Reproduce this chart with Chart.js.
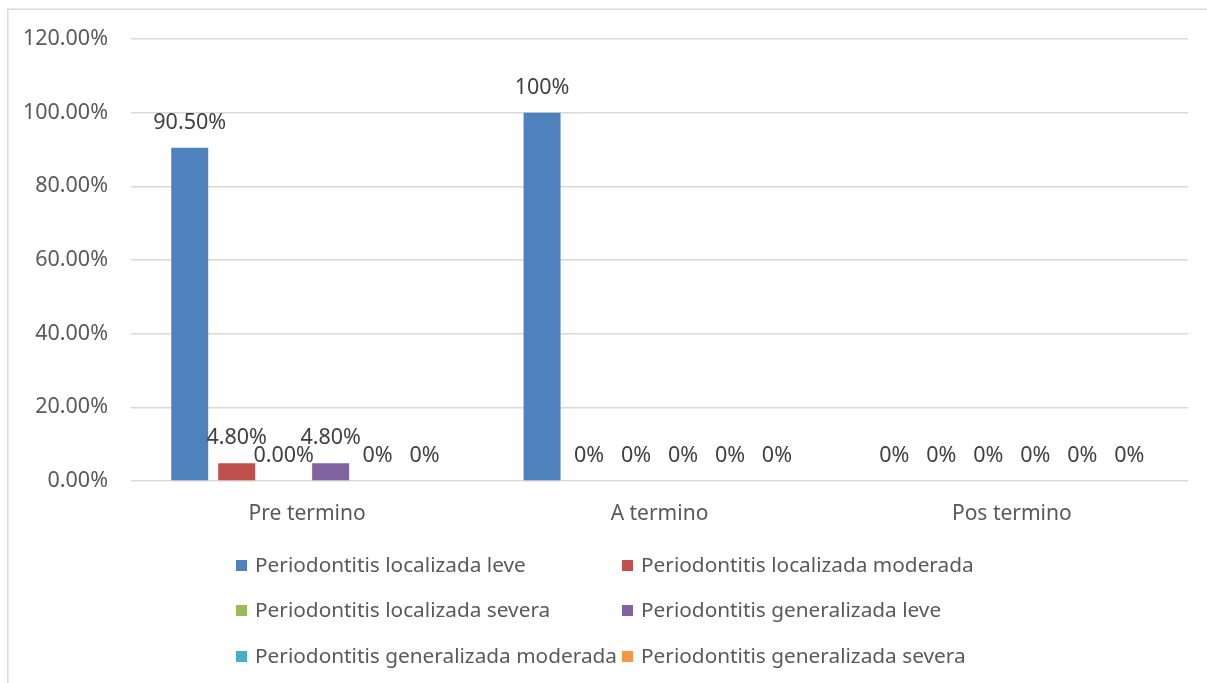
<!DOCTYPE html>
<html>
<head>
<meta charset="utf-8">
<script src="https://cdn.jsdelivr.net/npm/chart.js@4.4.1/dist/chart.umd.min.js"></script>
<style>
  html, body { margin: 0; padding: 0; background: #ffffff; }
  #wrap { position: relative; width: 1207px; height: 683px; }
</style>
</head>
<body>
<div id="wrap"><canvas id="chart" width="1207" height="683"></canvas></div>
<script>
// Categories (gestational age at birth)
const categories = ['Pre termino', 'A termino', 'Pos termino'];

// Series names
const seriesNames = [
  'Periodontitis localizada leve',
  'Periodontitis localizada moderada',
  'Periodontitis localizada severa',
  'Periodontitis generalizada leve',
  'Periodontitis generalizada moderada',
  'Periodontitis generalizada severa'
];

// Values in percent, one array per series (Pre, A, Pos)
const localizadaLeve        = [90.5, 100, 0];
const localizadaModerada    = [4.8, 0, 0];
const localizadaSevera      = [0, 0, 0];
const generalizadaLeve      = [4.8, 0, 0];
const generalizadaModerada  = [0, 0, 0];
const generalizadaSevera    = [0, 0, 0];

// Decimals shown in each value label
const decLocalizadaLeve       = [2, 0, 0];
const decLocalizadaModerada   = [2, 0, 0];
const decLocalizadaSevera     = [2, 0, 0];
const decGeneralizadaLeve     = [2, 0, 0];
const decGeneralizadaModerada = [0, 0, 0];
const decGeneralizadaSevera   = [0, 0, 0];

// Y axis tick values
const yTicks = [0, 20, 40, 60, 80, 100, 120];

const seriesValues = [localizadaLeve, localizadaModerada, localizadaSevera,
                      generalizadaLeve, generalizadaModerada, generalizadaSevera];
const seriesDecimals = [decLocalizadaLeve, decLocalizadaModerada, decLocalizadaSevera,
                        decGeneralizadaLeve, decGeneralizadaModerada, decGeneralizadaSevera];
const seriesColors = ['#4F81BD', '#C0504D', '#9BBB59', '#8064A2', '#4BACC6', '#F79646'];

const FONT = '"Noto Sans", "Open Sans", sans-serif';
const TEXT = '#595959';
const GRID = '#d9d9d9';

// Outer frame of the chart object
const framePlugin = {
  id: 'frame',
  beforeDraw(chart) {
    const ctx = chart.ctx;
    ctx.save();
    ctx.fillStyle = '#ffffff';
    ctx.fillRect(0, 0, chart.width, chart.height);
    ctx.strokeStyle = GRID;
    ctx.lineWidth = 1.5;
    ctx.strokeRect(7.75, 9.25, chart.width + 20, chart.height + 20);
    ctx.restore();
  }
};

// Value labels above each bar
const valueLabels = {
  id: 'valueLabels',
  afterDatasetsDraw(chart) {
    const ctx = chart.ctx;
    ctx.save();
    ctx.font = '21.5px ' + FONT;
    ctx.fillStyle = '#404040';
    ctx.textAlign = 'center';
    ctx.textBaseline = 'middle';
    chart.data.datasets.forEach((ds, di) => {
      const meta = chart.getDatasetMeta(di);
      meta.data.forEach((bar, i) => {
        const v = ds.data[i];
        const txt = v.toFixed(seriesDecimals[di][i]) + '%';
        ctx.fillText(txt, bar.x, bar.y - 25);
      });
    });
    ctx.restore();
  }
};

// Two-column legend under the plot
const gridLegend = {
  id: 'gridLegend',
  afterDraw(chart) {
    const ctx = chart.ctx;
    const colX = [236, 622];
    const rowY = [566, 611, 657];
    ctx.save();
    ctx.font = '20.8px ' + FONT;
    ctx.textBaseline = 'middle';
    ctx.textAlign = 'left';
    chart.data.datasets.forEach((ds, i) => {
      const x = colX[i % 2];
      const y = rowY[Math.floor(i / 2)];
      ctx.fillStyle = ds.backgroundColor;
      ctx.fillRect(x, y - 6, 11, 11);
      ctx.fillStyle = TEXT;
      ctx.fillText(ds.label, x + 19, y);
    });
    ctx.restore();
  }
};

new Chart(document.getElementById('chart'), {
  type: 'bar',
  data: {
    labels: categories,
    datasets: seriesNames.map((name, i) => ({
      label: name,
      data: seriesValues[i],
      backgroundColor: seriesColors[i],
      borderWidth: 0,
      categoryPercentage: 0.8,
      barPercentage: 0.787
    }))
  },
  options: {
    responsive: false,
    animation: false,
    devicePixelRatio: 1,
    layout: { padding: { left: 0, top: 39, right: 19, bottom: 0 } },
    plugins: {
      legend: { display: false },
      tooltip: { enabled: false }
    },
    scales: {
      x: {
        grid: { display: false, drawTicks: false },
        border: { display: false },
        ticks: { color: TEXT, font: { family: FONT, size: 21 }, padding: 20 },
        afterFit(scale) { scale.height = 683 - 481; }
      },
      y: {
        min: 0,
        max: 120,
        afterBuildTicks(scale) { scale.ticks = yTicks.map(v => ({ value: v })); },
        grid: { color: GRID, lineWidth: 1.5, drawTicks: false },
        border: { display: false },
        ticks: {
          color: TEXT,
          font: { family: FONT, size: 21.5 },
          padding: 23,
          callback: v => Number(v).toFixed(2) + '%'
        },
        afterFit(scale) { scale.width = 131; }
      }
    }
  },
  plugins: [framePlugin, valueLabels, gridLegend]
});
</script>
</body>
</html>
